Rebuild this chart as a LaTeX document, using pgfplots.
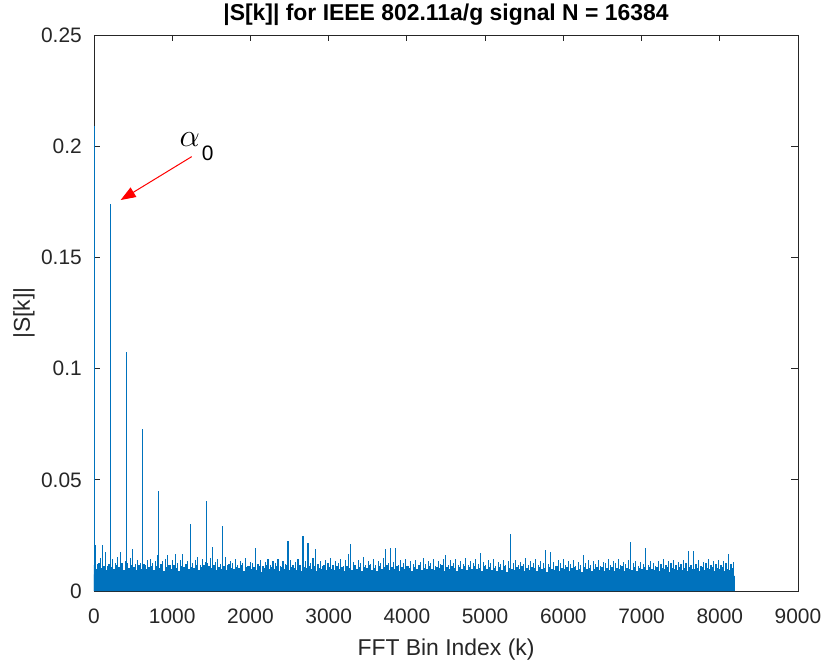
\documentclass[border=0pt]{standalone}
\usepackage{pgfplots}
\pgfplotsset{compat=1.18}
\usepackage{fontspec}
\setmainfont{Liberation Sans}
\usetikzlibrary{arrows.meta}
\definecolor{mblue}{RGB}{0,114,189}
\definecolor{axgray}{RGB}{38,38,38}
\begin{document}
\begin{tikzpicture}
\path[use as bounding box] (-94bp,-73bp) rectangle (731bp,591bp);
\begin{axis}[
  at={(0,0)}, anchor=south west,
  scale only axis, width=704bp, height=556bp,
  xmin=0, xmax=9000, ymin=0, ymax=0.25,
  xtick={0,1000,2000,3000,4000,5000,6000,7000,8000,9000},
  xticklabels={0,1000,2000,3000,4000,5000,6000,7000,8000,9000},
  ytick={0,0.05,0.1,0.15,0.2,0.25},
  yticklabels={0,0.05,0.1,0.15,0.2,0.25},
  tick align=inside, major tick length=6.5bp,
  axis line style={draw=axgray, line width=0.8bp},
  tick style={draw=axgray, line width=0.8bp},
  ticklabel style={font=\fontsize{21}{25}\selectfont, text=axgray},
  xticklabel style={anchor=base, yshift=-32bp, inner sep=0pt},
  yticklabel style={anchor=east, xshift=-12bp, inner sep=0pt},
  title={\textbf{|S[k]| for IEEE 802.11a/g signal N = 16384}},
  title style={font=\fontsize{23}{28}\selectfont, at={(axis description cs:0.5,1)}, anchor=base, yshift=9bp, inner sep=0pt},
  xlabel={FFT Bin Index (k)},
  xlabel style={font=\fontsize{23}{28}\selectfont, text=axgray, at={(axis description cs:0.5,0)}, anchor=base, yshift=-64bp, inner sep=0pt},
  ylabel={|S[k]|},
  ylabel style={font=\fontsize{23}{28}\selectfont, text=axgray, at={(axis description cs:0,0.5)}, anchor=center, yshift=70bp, inner sep=0pt},
]
% dense noise core
\addplot[fill=mblue, draw=none] coordinates {
(0,0.0075)(1024,0.0075)(2048,0.0072)(4096,0.0070)(6144,0.0068)(8192,0.0068)
} \closedcycle;
% ragged top of the dense band
\addplot[ycomb, mblue, line width=2.6bp, mark=none] coordinates {
(0,.0118)(32,.0097)(64,.0125)(96,.0104)(128,.0112)(160,.0093)(192,.0121)(224,.0108)
(256,.0099)(288,.0116)(320,.0106)(352,.0124)(384,.0095)(416,.0111)(448,.0103)(480,.0119)
(512,.0110)(544,.0094)(576,.0117)(608,.0101)(640,.0122)(672,.0098)(704,.0109)(736,.0114)
(768,.0096)(800,.0113)(832,.0105)(864,.0120)(896,.0092)(928,.0107)(960,.0118)(992,.0100)
(1024,.0115)(1056,.0102)(1088,.0091)(1120,.0111)(1152,.0106)(1184,.0123)(1216,.0097)(1248,.0108)
(1280,.0103)(1312,.0119)(1344,.0094)(1376,.0109)(1408,.0116)(1440,.0099)(1472,.0112)(1504,.0105)
(1536,.0117)(1568,.0093)(1600,.0108)(1632,.0101)(1664,.0114)(1696,.0096)(1728,.0121)(1760,.0104)
(1792,.0098)(1824,.0110)(1856,.0103)(1888,.0117)(1920,.0092)(1952,.0106)(1984,.0113)(2016,.0100)
(2048,.0109)(2080,.0094)(2112,.0112)(2144,.0087)(2176,.0104)(2208,.0116)(2240,.0097)(2272,.0107)
(2304,.0101)(2336,.0113)(2368,.0090)(2400,.0106)(2432,.0099)(2464,.0115)(2496,.0093)(2528,.0110)
(2560,.0104)(2592,.0096)(2624,.0117)(2656,.0091)(2688,.0108)(2720,.0102)(2752,.0114)(2784,.0098)
(2816,.0111)(2848,.0089)(2880,.0105)(2912,.0099)(2944,.0116)(2976,.0094)(3008,.0107)(3040,.0101)
(3072,.0093)(3104,.0112)(3136,.0100)(3168,.0108)(3200,.0088)(3232,.0114)(3264,.0103)(3296,.0096)
(3328,.0115)(3360,.0098)(3392,.0106)(3424,.0091)(3456,.0110)(3488,.0102)(3520,.0117)(3552,.0095)
(3584,.0105)(3616,.0090)(3648,.0113)(3680,.0099)(3712,.0107)(3744,.0116)(3776,.0094)(3808,.0109)
(3840,.0100)(3872,.0111)(3904,.0092)(3936,.0106)(3968,.0097)(4000,.0114)(4032,.0103)(4064,.0089)
(4096,.0108)(4128,.0101)(4160,.0115)(4192,.0093)(4224,.0104)(4256,.0097)(4288,.0112)(4320,.0099)
(4352,.0094)(4384,.0110)(4416,.0102)(4448,.0116)(4480,.0090)(4512,.0107)(4544,.0098)(4576,.0113)
(4608,.0103)(4640,.0088)(4672,.0109)(4704,.0100)(4736,.0114)(4768,.0095)(4800,.0106)(4832,.0101)
(4864,.0111)(4896,.0097)(4928,.0104)(4960,.0092)(4992,.0113)(5024,.0099)(5056,.0108)(5088,.0094)
(5120,.0102)(5152,.0090)(5184,.0107)(5216,.0096)(5248,.0111)(5280,.0085)(5312,.0104)(5344,.0098)
(5376,.0093)(5408,.0108)(5440,.0100)(5472,.0112)(5504,.0088)(5536,.0103)(5568,.0095)(5600,.0109)
(5632,.0105)(5664,.0091)(5696,.0110)(5728,.0097)(5760,.0102)(5792,.0087)(5824,.0106)(5856,.0099)
(5888,.0096)(5920,.0111)(5952,.0089)(5984,.0104)(6016,.0100)(6048,.0108)(6080,.0092)(6112,.0103)
(6144,.0107)(6176,.0094)(6208,.0101)(6240,.0086)(6272,.0109)(6304,.0098)(6336,.0104)(6368,.0091)
(6400,.0099)(6432,.0106)(6464,.0093)(6496,.0110)(6528,.0088)(6560,.0102)(6592,.0096)(6624,.0107)
(6656,.0092)(6688,.0104)(6720,.0098)(6752,.0111)(6784,.0090)(6816,.0105)(6848,.0100)(6880,.0094)
(6912,.0108)(6944,.0089)(6976,.0103)(7008,.0097)(7040,.0106)(7072,.0093)(7104,.0110)(7136,.0099)
(7168,.0095)(7200,.0107)(7232,.0091)(7264,.0102)(7296,.0098)(7328,.0109)(7360,.0087)(7392,.0104)
(7424,.0101)(7456,.0093)(7488,.0108)(7520,.0096)(7552,.0103)(7584,.0090)(7616,.0106)(7648,.0100)
(7680,.0097)(7712,.0105)(7744,.0089)(7776,.0109)(7808,.0094)(7840,.0102)(7872,.0099)(7904,.0107)
(7936,.0092)(7968,.0104)(8000,.0098)(8032,.0106)(8064,.0090)(8096,.0101)(8128,.0095)(8160,.0103)
};
% noise peaks
\addplot[ycomb, mblue, line width=1.1bp, mark=none] coordinates {
(16,.0205)(48,.0121)(80,.0148)(112,.0207)(144,.0176)(176,.0113)(208,.0131)(240,.0142)
(272,.0125)(304,.0152)(336,.0174)(368,.0118)(400,.0136)(432,.0127)(464,.0149)(496,.0189)
(528,.0122)(560,.0141)(592,.0128)(624,.0155)(656,.0117)(688,.0139)(720,.0146)(752,.0124)
(784,.0137)(816,.0160)(848,.0121)(880,.0133)(912,.0145)(944,.0162)(976,.0119)(1008,.0138)
(1040,.0165)(1072,.0126)(1104,.0141)(1136,.0166)(1168,.0122)(1200,.0134)(1232,.0147)(1264,.0128)
(1296,.0139)(1328,.0151)(1360,.0118)(1392,.0143)(1424,.0131)(1456,.0125)(1488,.0148)(1520,.0197)
(1552,.0129)(1584,.0146)(1616,.0120)(1648,.0138)(1680,.0152)(1712,.0117)(1744,.0135)(1776,.0126)
(1808,.0143)(1840,.0119)(1872,.0137)(1904,.0128)(1936,.0149)(1968,.0114)(2000,.0132)(2032,.0124)
(2064,.0195)(2096,.0121)(2128,.0139)(2160,.0112)(2192,.0130)(2224,.0144)(2256,.0118)(2288,.0135)
(2320,.0127)(2352,.0146)(2384,.0113)(2416,.0133)(2448,.0121)(2480,.0225)(2512,.0138)(2544,.0116)
(2576,.0131)(2608,.0142)(2640,.0119)(2672,.0247)(2704,.0134)(2736,.0217)(2768,.0125)(2800,.0148)
(2832,.0187)(2864,.0120)(2896,.0136)(2928,.0113)(2960,.0141)(2992,.0127)(3024,.0150)(3056,.0118)
(3088,.0133)(3120,.0124)(3152,.0145)(3184,.0112)(3216,.0138)(3248,.0166)(3280,.0210)(3312,.0129)
(3344,.0117)(3376,.0140)(3408,.0126)(3440,.0151)(3472,.0115)(3504,.0134)(3536,.0122)(3568,.0143)
(3600,.0119)(3632,.0136)(3664,.0128)(3696,.0147)(3728,.0190)(3760,.0124)(3792,.0195)(3824,.0131)
(3856,.0193)(3888,.0118)(3920,.0139)(3952,.0127)(3984,.0145)(4016,.0113)(4048,.0135)(4080,.0122)
(4112,.0140)(4144,.0116)(4176,.0131)(4208,.0148)(4240,.0120)(4272,.0137)(4304,.0125)(4336,.0143)
(4368,.0114)(4400,.0133)(4432,.0121)(4464,.0146)(4496,.0162)(4528,.0119)(4560,.0138)(4592,.0126)
(4624,.0142)(4656,.0115)(4688,.0134)(4720,.0123)(4752,.0149)(4784,.0117)(4816,.0136)(4848,.0128)
(4880,.0144)(4912,.0120)(4944,.0170)(4976,.0131)(5008,.0118)(5040,.0139)(5072,.0126)(5104,.0145)
(5136,.0113)(5168,.0132)(5200,.0121)(5232,.0140)(5264,.0117)(5296,.0135)(5328,.0256)(5360,.0124)
(5392,.0141)(5424,.0115)(5456,.0130)(5488,.0122)(5520,.0147)(5552,.0118)(5584,.0136)(5616,.0127)
(5648,.0143)(5680,.0116)(5712,.0133)(5744,.0125)(5776,.0184)(5808,.0120)(5840,.0177)(5872,.0129)
(5904,.0112)(5936,.0138)(5968,.0124)(6000,.0145)(6032,.0117)(6064,.0134)(6096,.0121)(6128,.0140)
(6160,.0114)(6192,.0131)(6224,.0119)(6256,.0162)(6288,.0126)(6320,.0139)(6352,.0115)(6384,.0133)
(6416,.0122)(6448,.0141)(6480,.0113)(6512,.0130)(6544,.0124)(6576,.0146)(6608,.0118)(6640,.0135)
(6672,.0127)(6704,.0143)(6736,.0116)(6768,.0132)(6800,.0121)(6832,.0139)(6864,.0220)(6896,.0125)
(6928,.0136)(6960,.0114)(6992,.0130)(7024,.0123)(7056,.0192)(7088,.0119)(7120,.0137)(7152,.0126)
(7184,.0112)(7216,.0133)(7248,.0121)(7280,.0142)(7312,.0117)(7344,.0135)(7376,.0124)(7408,.0140)
(7440,.0115)(7472,.0131)(7504,.0120)(7536,.0138)(7568,.0126)(7600,.0180)(7632,.0118)(7664,.0181)
(7696,.0123)(7728,.0139)(7760,.0114)(7792,.0132)(7824,.0127)(7856,.0144)(7888,.0119)(7920,.0135)
(7952,.0122)(7984,.0140)(8016,.0116)(8048,.0133)(8080,.0125)(8112,.0166)(8144,.0120)(8176,.0131)
};
% harmonic lines
\addplot[ycomb, mblue, line width=1bp, mark=none] coordinates {
(10,0.209)(205,0.174)(410,0.1075)(614,0.0727)(819,0.0448)(1229,0.030)(1434,0.0403)(1638,0.0291)
};
\draw[red, line width=1bp, -{Triangle[length=15bp,width=11bp]}] (axis cs:1249,0.1953) -- (axis cs:341,0.1758);
\node[inner sep=0pt, text=black, scale=1.3] at (axis cs:1225,0.2030) {\Huge$\alpha$};
\node[inner sep=0pt, text=black] at (axis cs:1454,0.1967) {\fontsize{21}{25}\selectfont 0};
\end{axis}
\end{tikzpicture}
\end{document}
